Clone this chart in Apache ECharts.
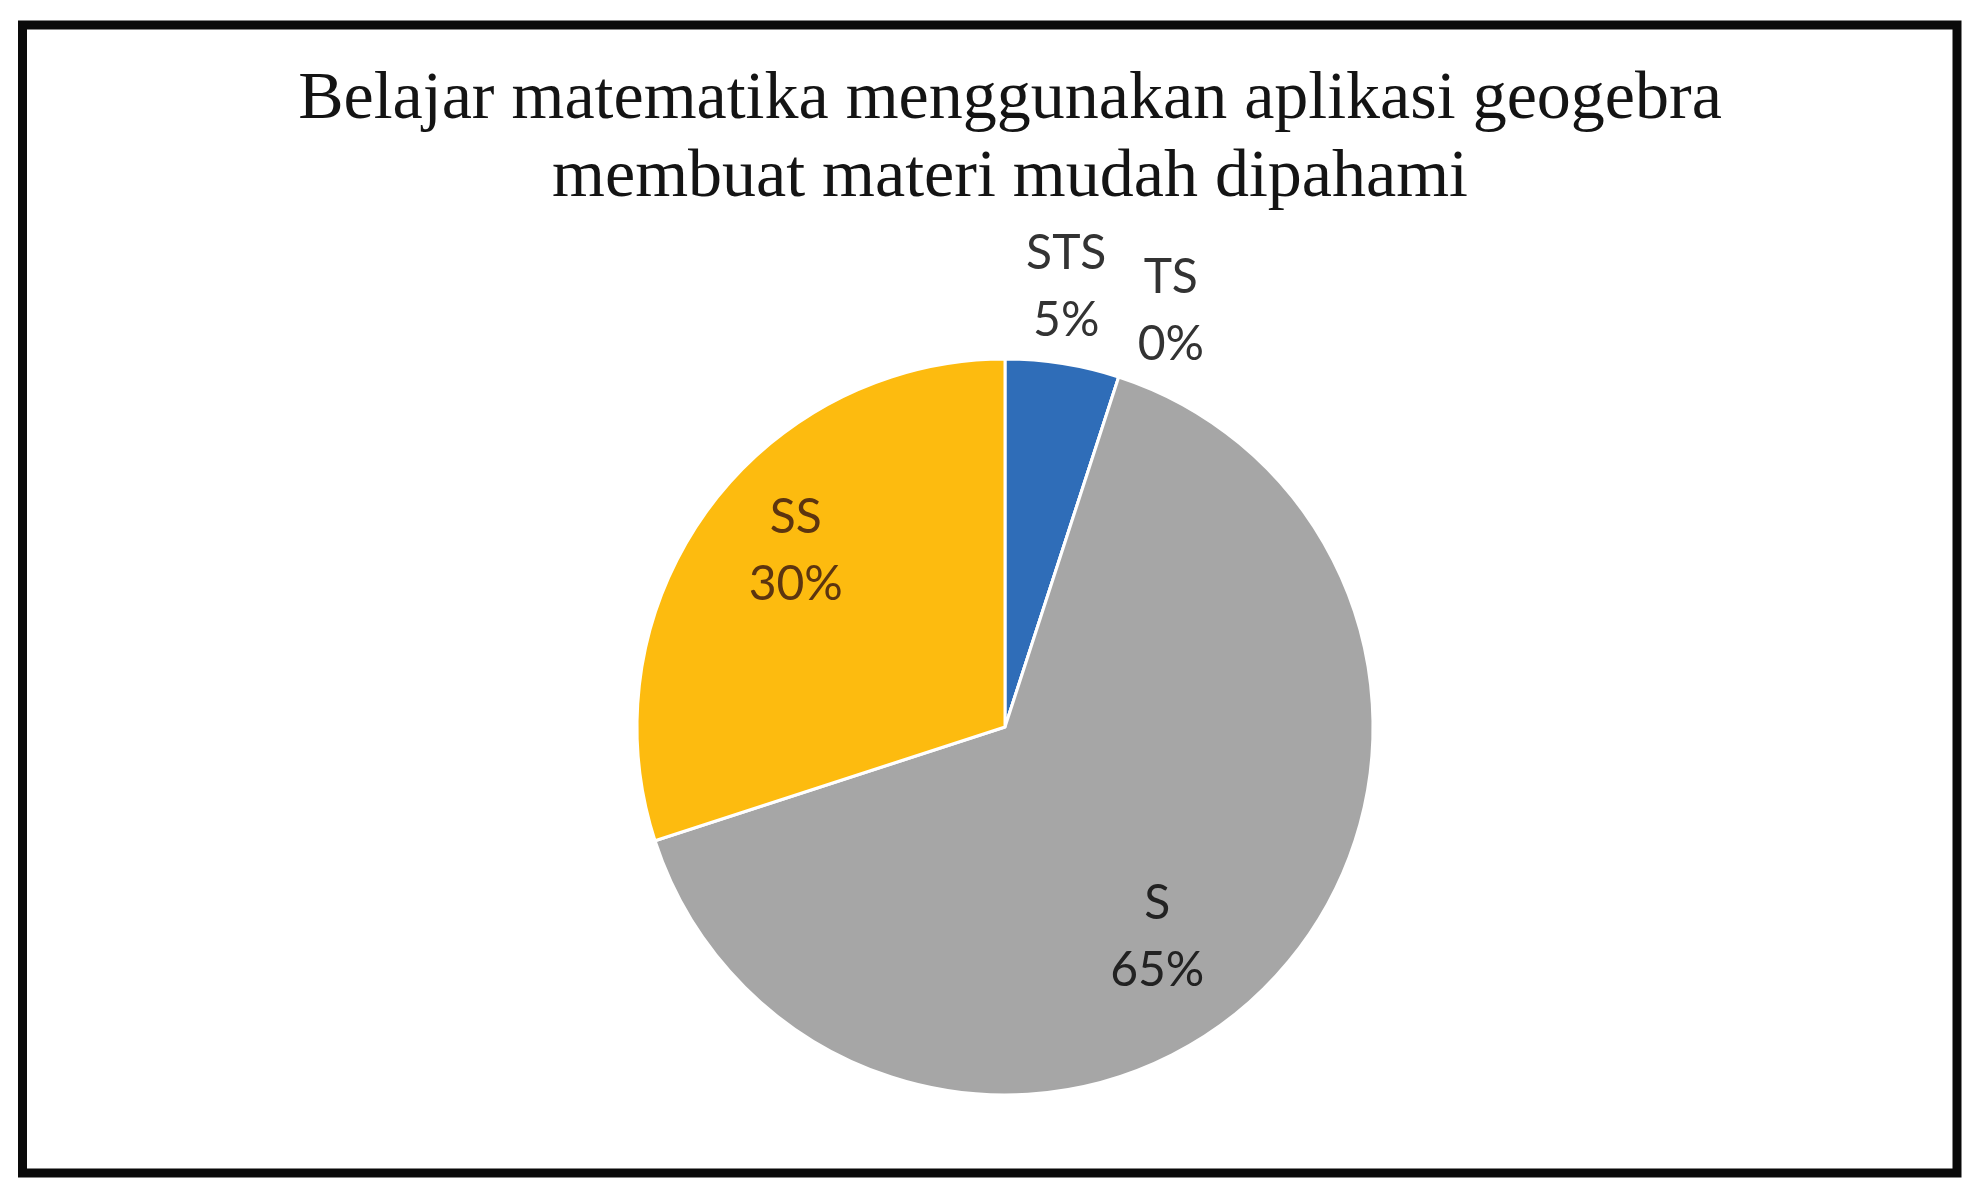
<!DOCTYPE html>
<html>
<head>
<meta charset="utf-8">
<script src="https://cdn.jsdelivr.net/npm/echarts@6/dist/echarts.min.js"></script>
<style>
html,body{margin:0;padding:0;background:#fff;}
#chart{width:1977px;height:1192px;}
</style>
</head>
<body>
<div id="chart"></div>
<script>
const titleLines = ['Belajar matematika menggunakan aplikasi geogebra', 'membuat materi mudah dipahami'];
const categories = ['STS', 'TS', 'S', 'SS'];
const values = [5, 0, 65, 30];
const colors = ['#2f6db8', '#ed7d31', '#a6a6a6', '#fdbb0f'];
const labelColors = ['#333333', '#333333', '#222222', '#5c3510'];
// label nudges relative to ECharts' default inside position
const labelShift = [[32, -255], [108, -238], [20, 78], [-58, -66]];

const chart = echarts.init(document.getElementById('chart'), null, {renderer: 'canvas'});
const option = {
  backgroundColor: '#ffffff',
  animation: false,
  title: {
    text: titleLines.join('\n'),
    left: 1005,
    top: 56,
    textAlign: 'center',
    textStyle: {
      fontFamily: 'Liberation Serif',
      fontSize: 68,
      fontWeight: 'normal',
      color: '#141414',
      lineHeight: 78
    }
  },
  graphic: [{
    type: 'rect',
    shape: {x: 22.5, y: 25, width: 1934.5, height: 1148},
    style: {fill: 'none', stroke: '#0a0a0a', lineWidth: 9},
    silent: true
  }],
  series: [{
    type: 'pie',
    center: [1005, 727],
    radius: [0, 368],
    startAngle: 90,
    clockwise: true,
    avoidLabelOverlap: false,
    minShowLabelAngle: -1,
    itemStyle: {borderColor: '#ffffff', borderWidth: 3},
    label: {
      show: true,
      position: 'inside',
      fontFamily: 'Lato',
      fontSize: 48,
      lineHeight: 67,
      formatter: function (p) { return p.name + '\n' + Math.round(p.percent) + '%'; }
    },
    labelLine: {show: false},
    labelLayout: function (p) {
      const s = labelShift[p.dataIndex];
      return {dx: s[0], dy: s[1]};
    },
    emphasis: {disabled: true},
    data: categories.map(function (c, i) {
      return {
        name: c,
        value: values[i],
        itemStyle: {color: colors[i]},
        label: {color: labelColors[i]}
      };
    })
  }]
};
chart.setOption(option);
</script>
</body>
</html>
